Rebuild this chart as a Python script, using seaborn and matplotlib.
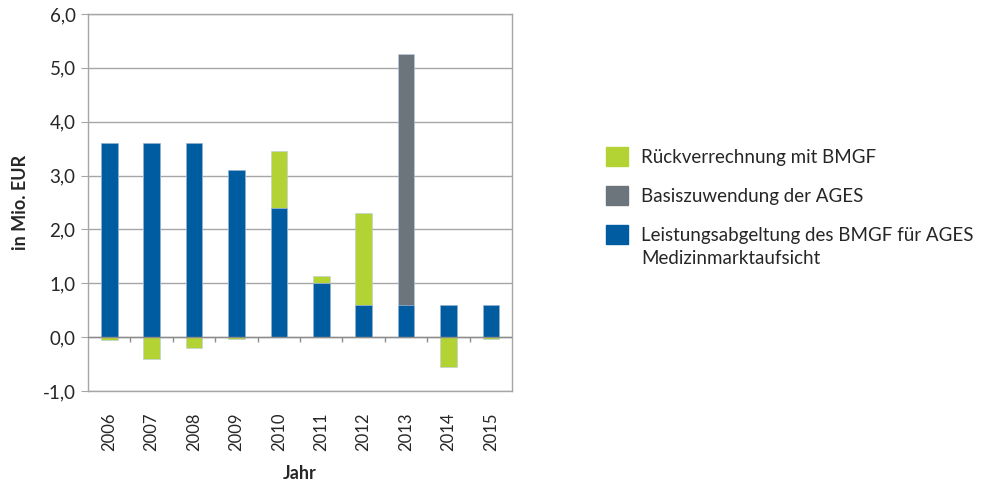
import matplotlib
matplotlib.use("Agg")
import matplotlib.pyplot as plt
from matplotlib.patches import Patch
from matplotlib.ticker import FuncFormatter
import seaborn as sns
import pandas as pd

# Data (Mio. EUR)
years = ["2006", "2007", "2008", "2009", "2010", "2011", "2012", "2013", "2014", "2015"]
leistung = [3.6, 3.6, 3.6, 3.1, 2.4, 1.0, 0.6, 0.6, 0.6, 0.6]
basis = [0.0, 0.0, 0.0, 0.0, 0.0, 0.0, 0.0, 4.66, 0.0, 0.0]
rueck = [-0.05, -0.4, -0.2, -0.04, 1.06, 0.13, 1.7, 0.0, -0.55, -0.04]

c_green = "#B3D335"
c_grey = "#6B757B"
c_blue = "#005CA1"

sns.set_style("white")
plt.rcParams["font.family"] = ["Lato", "DejaVu Sans"]

df = pd.DataFrame({"Jahr": years, "leistung": leistung, "basis": basis, "rueck": rueck})
# stacking: positive parts stack on top of the blue bar, negatives hang below zero
df["green_top"] = [l + b + r if r > 0 else r for l, b, r in zip(leistung, basis, rueck)]
df["grey_top"] = df["leistung"] + df["basis"]

fig = plt.figure(figsize=(9.86, 4.82), dpi=100)
ax = fig.add_axes([0.0893, 0.189, 0.430, 0.782])

w = 0.39
ax.yaxis.grid(True, color="#A6A6A6", linewidth=1)
ax.set_axisbelow(True)
bar_kw = dict(width=w, ax=ax, saturation=1, edgecolor="#B8CCE4", linewidth=0.4)
sns.barplot(data=df, x="Jahr", y="green_top", color=c_green, zorder=2, **bar_kw)
sns.barplot(data=df, x="Jahr", y="grey_top", color=c_grey, zorder=3, **bar_kw)
sns.barplot(data=df, x="Jahr", y="leistung", color=c_blue, zorder=4, **bar_kw)

ax.set_ylim(-1, 6)
ax.set_xlim(-0.5, len(years) - 0.5)
ax.set_yticks(range(-1, 7))
ax.yaxis.set_major_formatter(FuncFormatter(lambda v, p: f"{v:.1f}".replace(".", ",")))
for s in ax.spines.values():
    s.set_color("#A6A6A6")
    s.set_linewidth(1)

# category axis crossing at zero, with separators between years
ax.axhline(0, color="#8C8C8C", linewidth=1, zorder=5)
ax.vlines([i + 0.5 for i in range(len(years) - 1)], -0.1, 0, color="#8C8C8C", linewidth=1, zorder=5)

ax.tick_params(axis="y", which="both", left=True, length=5, color="#A6A6A6", labelsize=13.5, pad=4)
ax.tick_params(axis="x", bottom=False, labelsize=12, pad=12)
plt.setp(ax.get_xticklabels(), rotation=90)

ax.set_ylabel("in Mio. EUR", fontsize=13, fontweight="bold", labelpad=10)
ax.set_xlabel("Jahr", fontsize=13, fontweight="bold", labelpad=10)

handles = [
    Patch(color=c_green, label="Rückverrechnung mit BMGF"),
    Patch(color=c_grey, label="Basiszuwendung der AGES"),
    Patch(color=c_blue, label="Leistungsabgeltung des BMGF für AGES"),
]
leg = fig.legend(handles=handles, loc="upper left", bbox_to_anchor=(0.597, 0.73), frameon=False,
                 fontsize=13.5, handlelength=1.2, handleheight=1.2, handletextpad=0.7, labelspacing=1.05)

# second line of the last legend entry, below its first line
fig.canvas.draw()
bb = leg.get_texts()[-1].get_window_extent().transformed(fig.transFigure.inverted())
fig.text(bb.x0, bb.y0 - 0.012, "Medizinmarktaufsicht", fontsize=13.5, va="top", ha="left")

fig.savefig("out.png", dpi=100)
